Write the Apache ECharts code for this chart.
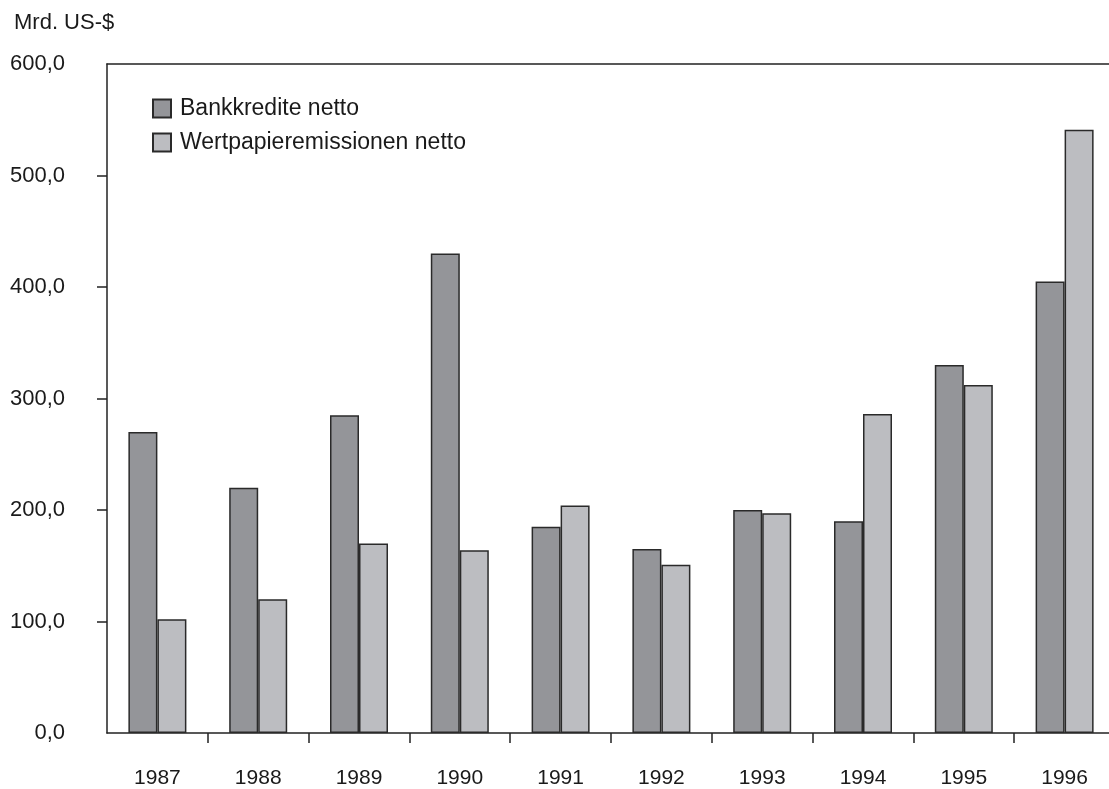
<!DOCTYPE html>
<html>
<head>
<meta charset="utf-8">
<script src="https://cdn.jsdelivr.net/npm/echarts@6/dist/echarts.min.js"></script>
<style>html,body{margin:0;padding:0;background:#fff;overflow:hidden}#c{width:1115px;height:789px}</style>
</head>
<body>
<div id="c"></div>
<script>
const years = ['1987','1988','1989','1990','1991','1992','1993','1994','1995','1996'];
const bankkredite = [270, 220, 285, 430, 185, 165, 200, 190, 330, 405];
const wertpapiere = [102, 120, 170, 164, 204, 151, 197, 286, 312, 541];
const yTicks = [100, 200, 300, 400, 500];
const unitLabel = 'Mrd. US-$';
const seriesNames = ['Bankkredite netto', 'Wertpapieremissionen netto'];

const FONT = '"Liberation Sans", Arial, Helvetica, sans-serif';
const TXT = '#1a1a1a';
const chart = echarts.init(document.getElementById('c'), null, {renderer: 'canvas'});
const fmt = v => v.toFixed(1).replace('.', ',');
chart.setOption({
  animation: false,
  backgroundColor: '#ffffff',
  title: {
    text: unitLabel, left: 9, top: 7,
    textStyle: {fontFamily: FONT, fontSize: 22, fontWeight: 'normal', color: TXT}
  },
  legend: {
    orient: 'vertical', left: 147, top: 92,
    itemWidth: 18, itemHeight: 18, itemGap: 11,
    icon: 'rect',
    textStyle: {fontFamily: FONT, fontSize: 23, lineHeight: 18, color: TXT, padding: [0, 0, 0, 4]},
    data: seriesNames
  },
  grid: {left: 107, top: 64, right: 0, bottom: 55, containLabel: false},
  xAxis: [{
    type: 'category', data: years, position: 'bottom',
    axisLine: {lineStyle: {color: '#222', width: 1.5}},
    axisTick: {show: true, length: 10, lineStyle: {color: '#222', width: 1.5}, interval: (i) => i > 0},
    axisLabel: {fontFamily: FONT, fontSize: 21, color: TXT, margin: 35}
  }, {
    type: 'category', data: years, position: 'top',
    axisLine: {lineStyle: {color: '#222', width: 1.5}},
    axisTick: {show: false}, axisLabel: {show: false}
  }],
  yAxis: {
    type: 'value', min: 0, max: 600, interval: 100,
    axisLine: {show: true, lineStyle: {color: '#222', width: 1.5}},
    axisTick: {show: true, length: 10, inside: false, lineStyle: {color: '#222', width: 1.5}, customValues: yTicks},
    splitLine: {show: false},
    axisLabel: {fontFamily: FONT, fontSize: 22, color: TXT, margin: 42, formatter: fmt}
  },
  series: [{
    name: seriesNames[0], type: 'bar', data: bankkredite,
    barWidth: 29, barGap: '0%',
    itemStyle: {color: '#949599', borderColor: '#2a2a2a', borderWidth: 1.5}
  }, {
    name: seriesNames[1], type: 'bar', data: wertpapiere,
    barWidth: 29, barGap: '0%',
    itemStyle: {color: '#bcbdc1', borderColor: '#2a2a2a', borderWidth: 1.5}
  }]
});
</script>
</body>
</html>
